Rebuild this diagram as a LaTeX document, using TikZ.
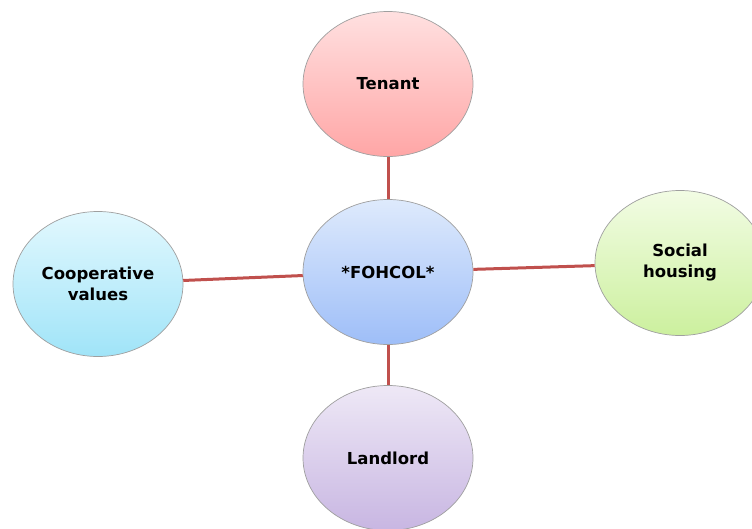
\documentclass[tikz,border=0pt]{standalone}
\usepackage{fontspec}
\setmainfont{DejaVu Sans}
\usetikzlibrary{shapes.geometric}
\definecolor{linkred}{HTML}{C0504D}
\begin{document}
\begin{tikzpicture}[x=1pt,y=-1pt,
  bubble/.style={ellipse, draw=gray!75, line width=0.7pt, minimum width=170pt, minimum height=145pt, inner sep=0pt,
    font=\bfseries\fontsize{16.5}{21}\selectfont, align=center, text=black},
  link/.style={draw=linkred, line width=3pt}]
\useasboundingbox (0,0) rectangle (752,528);
\node[bubble, top color={rgb,255:red,255;green,224;blue,224}, bottom color={rgb,255:red,255;green,166;blue,166}] (ten) at (388,84) {Tenant};
\node[bubble, top color={rgb,255:red,222;green,234;blue,252}, bottom color={rgb,255:red,158;green,190;blue,248}] (foh) at (388,272) {*FOHCOL*};
\node[bubble, top color={rgb,255:red,226;green,248;blue,254}, bottom color={rgb,255:red,160;green,228;blue,248}] (coop) at (98,284) {Cooperative\\values};
\node[bubble, top color={rgb,255:red,242;green,252;blue,228}, bottom color={rgb,255:red,204;green,240;blue,158}] (soc) at (680,263) {Social\\housing};
\node[bubble, top color={rgb,255:red,238;green,232;blue,246}, bottom color={rgb,255:red,200;green,182;blue,226}] (land) at (388,458) {Landlord};
\draw[link] (ten) -- (foh);
\draw[link] (foh) -- (land);
\draw[link] (coop) -- (foh);
\draw[link] (foh) -- (soc);
\end{tikzpicture}
\end{document}
